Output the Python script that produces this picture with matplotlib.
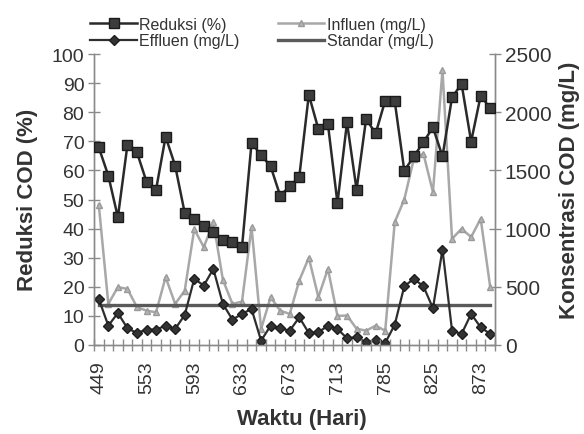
import numpy as np
import matplotlib
matplotlib.use("Agg")
import matplotlib.pyplot as plt
from matplotlib.ticker import FixedLocator, MultipleLocator

plt.rcParams["font.family"] = ["Liberation Sans", "DejaVu Sans"]

# reduction of COD (%), left axis
reduksi = [67.9, 58.2, 43.9, 68.7, 66.2, 56.1, 53.4, 71.6, 61.6, 45.4, 43.3,
           41.0, 38.7, 36.2, 35.3, 33.6, 69.4, 65.3, 61.4, 51.3, 54.5, 57.8,
           86.0, 74.2, 75.9, 48.8, 76.5, 53.4, 77.7, 72.7, 84.0, 83.7,
           59.9, 64.8, 69.7, 74.8, 64.8, 85.1, 89.7, 69.9, 85.7, 81.3]

# COD concentrations (mg/L), right axis
influen = [1205, 353, 497, 482, 325, 295, 281, 583, 353, 467, 995,
           841, 1056, 560, 353, 373, 1013, 138, 411, 295, 267, 554,
           750, 411, 654, 250, 253, 140, 123, 166, 123, 1056,
           1250, 1601, 1644, 1314, 2361, 912, 999, 927, 1085, 497]

effluen = [396, 166, 275, 144, 103, 132, 132, 166, 138, 258, 568,
           511, 654, 353, 218, 267, 310, 37, 166, 144, 123, 238,
           103, 109, 166, 138, 58, 66, 23, 40, 17, 175,
           505, 568, 505, 316, 820, 123, 95, 267, 152, 95]

standar = [340] * len(reduksi)

tick_pos = [0, 5, 10, 15, 20, 25, 30, 35, 40]
tick_labels = ["449", "553", "593", "633", "673", "713", "785", "825", "873"]

x = np.arange(len(reduksi))
TXT = "#333333"
AX = "#8a8a8a"

fig = plt.figure(figsize=(5.84, 4.35), dpi=100)
ax = fig.add_axes([94 / 584, 1 - 346 / 435, (495 - 94) / 584, (346 - 55) / 435])
ax2 = ax.twinx()

ax2.plot(x, influen, color="#a8a8a8", lw=1.8, marker="^", ms=5,
         mfc="#b5b5b5", mec="#9a9a9a", label="Influen (mg/L)", zorder=2)
ax2.plot(x, standar, color="#5a5a5a", lw=2.4, label="Standar (mg/L)", zorder=3)
ax2.plot(x, effluen, color="#2e2e2e", lw=1.6, marker="D", ms=5.5,
         mfc="#333333", mec="#1e1e1e", label="Effluen (mg/L)", zorder=4)
ax.plot(x, reduksi, color="#2a2a2a", lw=1.8, marker="s", ms=7,
        mfc="#3c3c3c", mec="#1a1a1a", label="Reduksi (%)", zorder=5)

ax.set_zorder(ax2.get_zorder() + 1)
ax.patch.set_visible(False)

ax.set_xlim(-0.5, len(reduksi) - 0.5)
ax.set_ylim(0, 100)
ax2.set_ylim(0, 2500)

ax.yaxis.set_major_locator(MultipleLocator(10))
ax2.yaxis.set_major_locator(MultipleLocator(500))
ax.xaxis.set_major_locator(FixedLocator(tick_pos))
ax.set_xticklabels(tick_labels, rotation=90)
ax.xaxis.set_minor_locator(FixedLocator(np.arange(-0.5, len(reduksi), 1.0)))

for a in (ax, ax2):
    a.spines["top"].set_visible(False)
    for s in ("left", "right", "bottom"):
        a.spines[s].set_color(AX)
        a.spines[s].set_linewidth(1.0)

ax.tick_params(axis="x", which="major", length=0, pad=11, labelsize=14, labelcolor=TXT)
ax.tick_params(axis="x", which="minor", direction="inout", length=8, color=AX, width=1)
ax.tick_params(axis="y", direction="inout", length=8, color=AX, width=1,
               labelsize=14, labelcolor=TXT, pad=3)
ax2.tick_params(axis="y", direction="inout", length=8, color=AX, width=1,
                labelsize=15, labelcolor=TXT, pad=3)

fig.text(28 / 584, 1 - 200 / 435, "Reduksi COD (%)", rotation=90, ha="center",
         va="center", fontsize=16, fontweight="bold", color=TXT)
fig.text(569 / 584, 1 - 190 / 435, "Konsentrasi COD (mg/L)", rotation=90, ha="center",
         va="center", fontsize=16, fontweight="bold", color=TXT)
fig.text(302 / 584, 1 - 420 / 435, "Waktu (Hari)", ha="center", va="center",
         fontsize=16, fontweight="bold", color=TXT)

h1, l1 = ax.get_legend_handles_labels()
h2, l2 = ax2.get_legend_handles_labels()
hd = dict(zip(l1 + l2, h1 + h2))
order = ["Reduksi (%)", "Effluen (mg/L)", "Influen (mg/L)", "Standar (mg/L)"]
leg = fig.legend([hd[k] for k in order], order, loc="center", ncol=2,
                 bbox_to_anchor=(262 / 584, 1 - 33.5 / 435), frameon=False,
                 fontsize=11.5, handlelength=2.9, handletextpad=0.15,
                 labelspacing=0.1, columnspacing=2.4, borderpad=0)
for t in leg.get_texts():
    t.set_color(TXT)

fig.savefig("out.png", dpi=100)
